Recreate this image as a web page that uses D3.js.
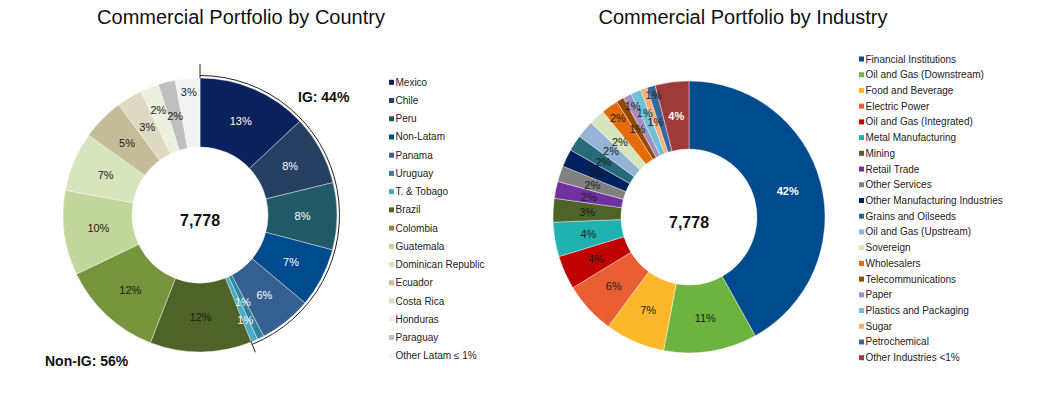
<!DOCTYPE html>
<html>
<head>
<meta charset="utf-8">
<script src="https://cdn.jsdelivr.net/npm/d3@7"></script>
<style>
body{margin:0;background:#fff;}
svg text{font-family:"Liberation Sans",Arial,sans-serif;}
</style>
</head>
<body>
<div id="chart"></div>
<script>
// ---- data: portfolio by country (share of total, %)
var countryNames = ["Mexico","Chile","Peru","Non-Latam","Panama","Uruguay","T. & Tobago","Brazil","Colombia","Guatemala","Dominican Republic","Ecuador","Costa Rica","Honduras","Paraguay","Other Latam \u2264 1%"];
var countryShares = [13.0, 8.2, 7.9, 7.0, 6.2, 0.8, 0.8, 12.0, 12.0, 10.0, 7.0, 5.0, 3.0, 2.2, 2.0, 2.9];
var countryColors = ["#0b215d","#273f60","#215a67","#004a8e","#365f92","#2f849a","#4aabc5","#4f6228","#77933c","#c3d69b","#d8e4bd","#c4bd97","#ddd9c3","#ebf1de","#bfbfbf","#f2f2f2"];
var igCountries = ["Mexico","Chile","Peru","Non-Latam","Panama","Uruguay","T. & Tobago"];
var igLabels = ["IG: 44%", "Non-IG: 56%"];

// ---- data: portfolio by industry (share of total, %)
var industryNames = ["Financial Institutions","Oil and Gas (Downstream)","Food and Beverage","Electric Power","Oil and Gas (Integrated)","Metal Manufacturing","Mining","Retail Trade","Other Services","Other Manufacturing Industries","Grains and Oilseeds","Oil and Gas (Upstream)","Sovereign","Wholesalers","Telecommunications","Paper","Plastics and Packaging","Sugar","Petrochemical","Other Industries <1%"];
var industryShares = [41.9, 11.1, 7.1, 6.2, 4.0, 4.1, 2.8, 2.0, 1.9, 2.1, 1.9, 2.1, 1.9, 2.0, 0.9, 1.0, 1.2, 0.8, 1.0, 4.0];
var industryColors = ["#004b8d","#6db33f","#fcb82a","#e95f33","#c00000","#20b1b1","#4f6228","#7030a0","#808080","#002060","#266b78","#95b3d7","#d8e4bc","#e36c09","#974806","#a38fc2","#6fc1d8","#fab07a","#3a66a0","#9e3a3a"];

var totalExposure = "7,778";
var titles = ["Commercial Portfolio by Country", "Commercial Portfolio by Industry"];

var W = 1037, H = 395;
var svg = d3.select("#chart").append("svg")
    .attr("width", W)
    .attr("height", H);

// labels on tiny slices are pushed in/out a bit (as in the original)
var countryLabelR = {"Uruguay":97, "Honduras":113, "Other Latam \u2264 1%":123, "T. & Tobago":114};
var industryLabelR = {"Wholesalers":122, "Paper":124, "Plastics and Packaging":113, "Sugar":101, "Petrochemical":127};

function drawDonut(opt){
    var data = opt.names.map(function(n, i){ return {name:n, value:opt.values[i], color:opt.colors[i]}; });
    var pie = d3.pie().sort(null).value(function(d){ return d.value; });
    var arcs = pie(data);
    var arc = d3.arc().innerRadius(opt.r0).outerRadius(opt.r1);
    var g = svg.append("g").attr("transform", "translate(" + opt.cx + "," + opt.cy + ")");

    g.selectAll("path.slice")
        .data(arcs)
        .enter()
        .append("path")
        .attr("class", "slice")
        .attr("d", arc)
        .style("fill", function(d){ return d.data.color; })
        .style("stroke", "#fff")
        .style("stroke-width", 0.4);

    g.selectAll("text.pct")
        .data(arcs)
        .enter()
        .append("text")
        .attr("class", "pct")
        .attr("transform", function(d){
            var r = opt.labelR[d.data.name] || (opt.r0 + opt.r1) / 2;
            var a = (d.startAngle + d.endAngle) / 2;
            return "translate(" + (Math.sin(a) * r) + "," + (-Math.cos(a) * r) + ")";
        })
        .attr("text-anchor", "middle")
        .attr("dy", "0.36em")
        .attr("font-size", "11px")
        .attr("font-weight", function(d){ return opt.boldLabels.indexOf(d.data.name) >= 0 ? "bold" : "normal"; })
        .style("fill", function(d){ return opt.whiteLabels.indexOf(d.data.name) >= 0 ? "#fff" : "#1a1a1a"; })
        .text(function(d){ return Math.round(d.data.value) + "%"; });

    g.append("text")
        .attr("text-anchor", "middle")
        .attr("y", 11)
        .attr("font-size", "16px")
        .attr("font-weight", "bold")
        .style("fill", "#111")
        .text(totalExposure);

    // legend
    var ly = d3.scalePoint().domain(opt.names).range(opt.legendY);
    var lg = svg.append("g").attr("transform", "translate(" + opt.legendX + ",0)");
    var item = lg.selectAll("g")
        .data(data)
        .enter()
        .append("g")
        .attr("transform", function(d){ return "translate(0," + ly(d.name) + ")"; });
    item.append("rect")
        .attr("x", 0).attr("y", -2.5)
        .attr("width", 5).attr("height", 5)
        .style("fill", function(d){ return d.color; });
    item.append("text")
        .attr("x", 6.5)
        .attr("dy", "0.35em")
        .attr("font-size", "10px")
        .style("fill", "#222")
        .text(function(d){ return d.name; });

    return {g:g, arcs:arcs};
}

var left = drawDonut({
    names: countryNames, values: countryShares, colors: countryColors,
    cx: 200, cy: 215, r0: 68, r1: 137,
    labelR: countryLabelR,
    whiteLabels: igCountries, boldLabels: [],
    legendX: 389, legendY: [82.3, 355.7]
});

var right = drawDonut({
    names: industryNames, values: industryShares, colors: industryColors,
    cx: 689, cy: 217, r0: 68, r1: 136,
    labelR: industryLabelR,
    whiteLabels: ["Financial Institutions","Other Industries <1%"],
    boldLabels: ["Financial Institutions","Other Industries <1%"],
    legendX: 859, legendY: [59, 357.7]
});

// IG bracket around the investment grade countries
var igEnd = left.arcs.filter(function(d){ return igCountries.indexOf(d.data.name) >= 0; })
    .reduce(function(m, d){ return Math.max(m, d.endAngle); }, 0);
var br = 139.5;
var p = d3.path();
p.arc(0, 0, br, -Math.PI / 2, igEnd - Math.PI / 2);
left.g.append("path")
    .attr("d", p.toString())
    .style("fill", "none")
    .style("stroke", "#222")
    .style("stroke-width", 1);
left.g.append("line")
    .attr("x1", 0).attr("y1", -137)
    .attr("x2", 0).attr("y2", -151)
    .style("stroke", "#222").style("stroke-width", 1);
left.g.append("line")
    .attr("x1", Math.sin(igEnd) * 136).attr("y1", -Math.cos(igEnd) * 136)
    .attr("x2", Math.sin(igEnd) * 148).attr("y2", -Math.cos(igEnd) * 148)
    .style("stroke", "#222").style("stroke-width", 1);

svg.append("text")
    .attr("x", 298).attr("y", 102)
    .attr("font-size", "14px").attr("font-weight", "bold")
    .style("fill", "#111")
    .text(igLabels[0]);
svg.append("text")
    .attr("x", 45).attr("y", 366)
    .attr("font-size", "14px").attr("font-weight", "bold")
    .style("fill", "#111")
    .text(igLabels[1]);

// titles
svg.selectAll("text.title")
    .data(titles)
    .enter()
    .append("text")
    .attr("class", "title")
    .attr("x", function(d, i){ return i == 0 ? 241 : 743; })
    .attr("y", 24)
    .attr("text-anchor", "middle")
    .attr("font-size", "20px")
    .style("fill", "#111")
    .text(function(d){ return d; });
</script>
</body>
</html>
